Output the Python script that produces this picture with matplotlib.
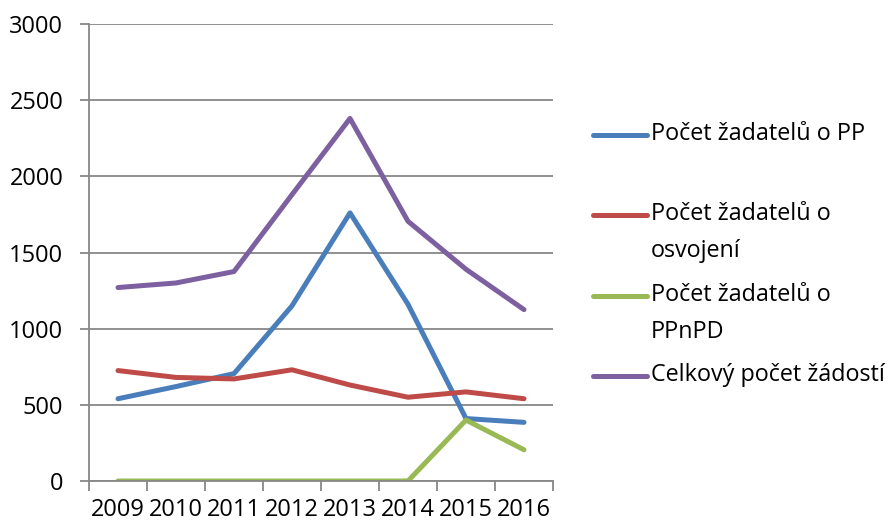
import matplotlib.pyplot as plt
import numpy as np
from matplotlib.lines import Line2D

years = ["2009", "2010", "2011", "2012", "2013", "2014", "2015", "2016"]
pp = [540, 620, 705, 1150, 1760, 1160, 410, 385]
osvojeni = [725, 680, 670, 730, 630, 550, 585, 540]
ppnpd = [0, 0, 0, 0, 0, 0, 400, 205]
celkem = [1270, 1300, 1375, 1880, 2380, 1705, 1390, 1125]

labels = [
    "Počet žadatelů o PP",
    "Počet žadatelů o\nosvojení",
    "Počet žadatelů o\nPPnPD",
    "Celkový počet žádostí",
]
colors = ["#4A7EBB", "#BE4B48", "#98B954", "#7D60A0"]
series = [pp, osvojeni, ppnpd, celkem]

plt.rcParams["font.family"] = ["Open Sans", "DejaVu Sans"]

W, H = 889, 524
fig = plt.figure(figsize=(W / 100, H / 100), dpi=100)
ax = fig.add_axes([89 / W, 43 / H, (553 - 89) / W, (481 - 24) / H])

x = np.arange(len(years))
for vals, col in zip(series, colors):
    ax.plot(x, vals, color=col, linewidth=3.6, solid_capstyle="round", solid_joinstyle="round")

grid_col = "#878787"
ax.set_ylim(0, 3000)
ax.set_yticks(np.arange(0, 3001, 500))
ax.yaxis.grid(True, color=grid_col, linewidth=1.3)
ax.set_axisbelow(True)
ax.set_xlim(-0.5, len(years) - 0.5)
ax.set_xticks(x)
ax.set_xticklabels(years)
ax.set_xticks(np.arange(-0.5, len(years)), minor=True)

for side in ["top", "right"]:
    ax.spines[side].set_visible(False)
for side in ["left", "bottom"]:
    ax.spines[side].set_color(grid_col)
    ax.spines[side].set_linewidth(1.3)

ax.tick_params(axis="y", direction="out", length=6.5, width=1.3, color=grid_col,
               pad=12, labelsize=17)
ax.tick_params(axis="x", which="major", length=0, pad=12, labelsize=17)
ax.tick_params(axis="x", which="minor", direction="out", length=7, width=1.3, color=grid_col)

# legend, drawn by hand to keep the marker on the first text line
leg_y = [135, 215, 296, 376]
for lab, col, yy in zip(labels, colors, leg_y):
    fy = 1 - yy / H
    fig.add_artist(Line2D([593 / W, 647 / W], [fy, fy], color=col, linewidth=3.6,
                          solid_capstyle="round", transform=fig.transFigure))
    fig.text(651 / W, fy + 13 / H, lab, fontsize=16.8, va="top", ha="left",
             linespacing=1.75, transform=fig.transFigure)

fig.savefig("out.png", dpi=100)
